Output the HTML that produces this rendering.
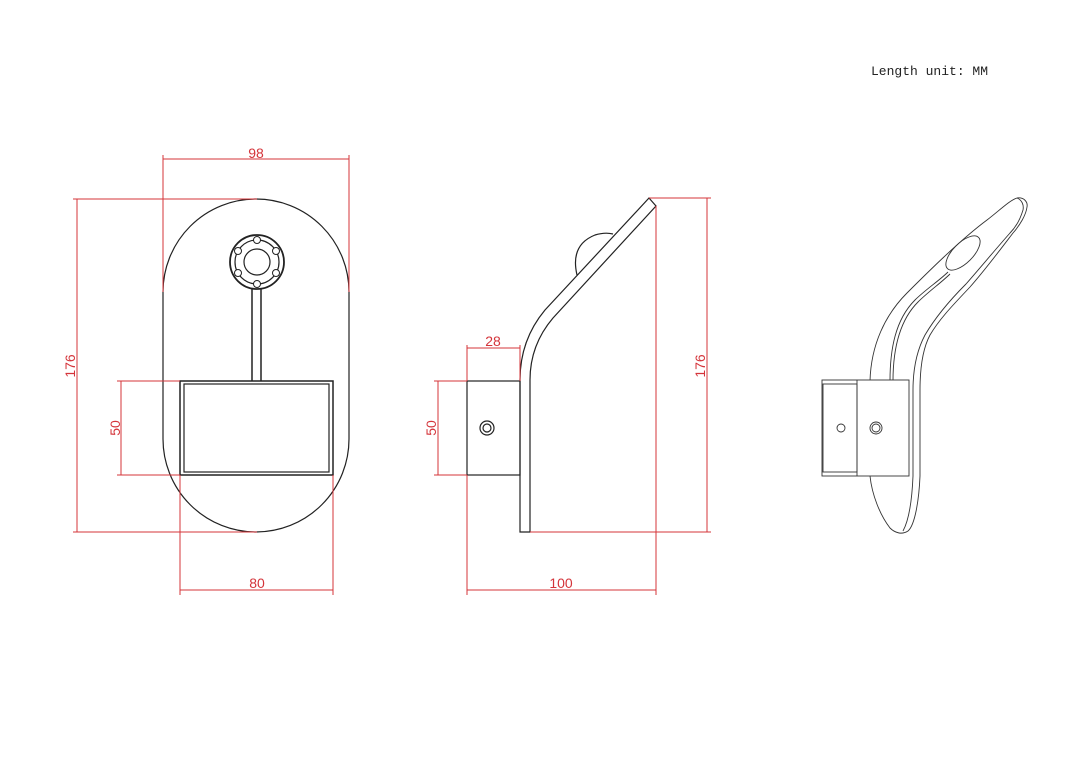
<!DOCTYPE html>
<html><head><meta charset="utf-8"><style>
html,body{margin:0;padding:0;background:#fff;}
svg{display:block;}
text{font-family:"Liberation Sans",sans-serif;font-size:14px;fill:#d4343a;}
</style></head><body>
<svg width="1080" height="763" viewBox="0 0 1080 763" xmlns="http://www.w3.org/2000/svg">
<rect width="1080" height="763" fill="#fff"/>
<text x="871" y="75" style="font-family:'Liberation Mono',monospace;font-size:13px;fill:#222">Length unit: MM</text>

<!-- FRONT VIEW -->
<g fill="none" stroke="#222" stroke-width="1.2">
<path d="M163,292 A93,93 0 0 1 349,292 L349,439 A93,93 0 0 1 163,439 Z"/>
<circle cx="257" cy="262" r="27" stroke-width="1.8"/>
<circle cx="257" cy="262" r="13"/>
<g transform="translate(257,262)">
<path d="M0,-23 A23,23 0 0 1 0,23 A23,23 0 0 1 0,-23" stroke="none"/>
<circle r="22" />
</g>
<g transform="translate(257,262)" fill="#fff" stroke="#222" stroke-width="1">
<circle cx="0" cy="-22" r="3.5"/>
<circle cx="19" cy="-11" r="3.5"/>
<circle cx="19" cy="11" r="3.5"/>
<circle cx="0" cy="22" r="3.5"/>
<circle cx="-19" cy="11" r="3.5"/>
<circle cx="-19" cy="-11" r="3.5"/>
</g>
<path d="M252,289 L252,381 M261,289 L261,381" stroke-width="1.5"/>
<rect x="180" y="381" width="153" height="94" stroke-width="1.5"/>
<rect x="184" y="384" width="145" height="88"/>
</g>
<g fill="none" stroke="#d4343a" stroke-width="1">
<path d="M163,155 L163,292 M349,155 L349,292 M163,159 L349,159"/>
<path d="M73,199 L257,199 M73,532 L257,532 M77,199 L77,532"/>
<path d="M117,381 L180,381 M117,475 L180,475 M121,381 L121,475"/>
<path d="M180,475 L180,595 M333,475 L333,595 M180,590 L333,590"/>
</g>
<text x="256" y="158" text-anchor="middle">98</text>
<text x="257" y="588" text-anchor="middle">80</text>
<text transform="translate(75,366) rotate(-90)" text-anchor="middle">176</text>
<text transform="translate(120,428) rotate(-90)" text-anchor="middle">50</text>

<!-- SIDE VIEW -->
<g fill="none" stroke="#222" stroke-width="1.2">
<rect x="467" y="381" width="53" height="94"/>
<circle cx="487" cy="428" r="7"/>
<circle cx="487" cy="428" r="4"/>
<path d="M520,532 L520,380 Q520,340 545,310 L649,198 L656,206 L553,318 Q530,345 530,380 L530,532 Z"/>
<path d="M577,275 Q570,245 595,235 Q605,232 613,234"/>
</g>
<g fill="none" stroke="#d4343a" stroke-width="1">
<path d="M467,345 L467,381 M520,345 L520,381 M467,348 L520,348"/>
<path d="M434,381 L467,381 M434,475 L467,475 M438,381 L438,475"/>
<path d="M467,475 L467,595 M656,206 L656,595 M467,590 L656,590"/>
<path d="M649,198 L711,198 M530,532 L711,532 M707,198 L707,532"/>
</g>
<text x="493" y="346" text-anchor="middle">28</text>
<text x="561" y="588" text-anchor="middle">100</text>
<text transform="translate(436,428) rotate(-90)" text-anchor="middle">50</text>
<text transform="translate(705,366) rotate(-90)" text-anchor="middle">176</text>

<!-- ISO VIEW -->
<g fill="none" stroke="#333" stroke-width="0.9">
<path d="M870,381 C871,345 885,315 907,293 C925,275 960,240 987,220 C1000,210 1010,200 1017,198 C1024,197 1028,202 1027,207 C1026,215 1020,225 1013,233 C1000,250 985,270 970,287 C955,303 940,318 930,335 C922,350 920,370 920,390 L920,476 C919,500 915,525 908,531 C902,535 895,533 890,528 C880,515 872,495 870,476"/>
<path d="M1017,198 C1022,200 1024,205 1023,210 C1020,220 1015,228 1010,233 C995,250 980,268 966,284 C950,300 935,318 925,335 C916,352 913,370 913,390 L913,476 C912,500 909,520 903,531"/>
<path d="M890,381 C890,350 895,320 915,300 C925,290 940,280 948,272"/>
<path d="M893,381 C893,352 898,322 918,302 C928,292 942,282 950,274"/>
<ellipse cx="963" cy="253" rx="22" ry="10" transform="rotate(-45 963 253)"/>
<rect x="822" y="380" width="87" height="96" fill="#fff"/>
<rect x="823" y="384" width="34" height="88"/>
<path d="M857,380 L857,476"/>
<circle cx="841" cy="428" r="4"/>
<circle cx="876" cy="428" r="6"/>
<circle cx="876" cy="428" r="4"/>
</g>
</svg>
</body></html>
